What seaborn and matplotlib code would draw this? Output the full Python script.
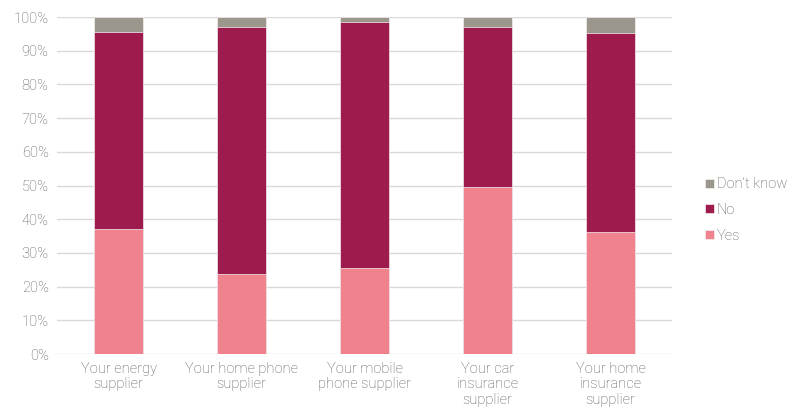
import numpy as np
import pandas as pd
import matplotlib
matplotlib.use("Agg")
import matplotlib.pyplot as plt
import seaborn as sns

categories = [
    "Your energy\nsupplier",
    "Your home phone\nsupplier",
    "Your mobile\nphone supplier",
    "Your car\ninsurance\nsupplier",
    "Your home\ninsurance\nsupplier",
]
yes = [37.1, 23.7, 25.5, 49.6, 36.2]
no = [58.5, 73.4, 73.1, 47.5, 59.1]
dont_know = [4.4, 2.9, 1.4, 2.9, 4.7]

colors = {"Yes": "#EF828C", "No": "#9E1C4D", "Don't know": "#9C978C"}
text_color = "#5A5A5A"
grid_color = "#D9D9D9"

sns.set_theme(style="white")
plt.rcParams["font.family"] = ["Roboto", "DejaVu Sans"]
plt.rcParams["font.weight"] = "light"

df = pd.DataFrame({"category": categories, "Yes": yes, "No": no, "Don't know": dont_know})
df["cum_yes"] = df["Yes"]
df["cum_no"] = df["Yes"] + df["No"]
df["cum_dk"] = df["cum_no"] + df["Don't know"]

fig = plt.figure(figsize=(7.91, 4.11), dpi=100)
ax = fig.add_axes([57 / 791, 1 - 354 / 411, (672 - 57) / 791, (354 - 17) / 411])

ax.set_axisbelow(True)
ax.yaxis.grid(True, color=grid_color, linewidth=1.0)

# stacked bars: draw cumulative layers from the top down
for col, name in [("cum_dk", "Don't know"), ("cum_no", "No"), ("cum_yes", "Yes")]:
    sns.barplot(data=df, x="category", y=col, color=colors[name], width=0.4,
                saturation=1, ax=ax, label=name, zorder=2, linewidth=0.5,
                edgecolor="#F4F0F2")

ax.set_ylim(0, 100)
ax.set_xlim(-0.5, len(categories) - 0.5)
ax.set_yticks(np.arange(0, 101, 10))
ax.set_yticklabels([f"{v}%" for v in range(0, 101, 10)])
ax.set_xlabel("")
ax.set_ylabel("")
for s in ax.spines.values():
    s.set_visible(False)
ax.tick_params(axis="both", length=0, colors=text_color, labelsize=10.5)
ax.tick_params(axis="y", pad=6)
ax.tick_params(axis="x", pad=6)
for lbl in ax.get_xticklabels() + ax.get_yticklabels():
    lbl.set_fontweight("light")
for lbl in ax.get_xticklabels():
    lbl.set_linespacing(1.1)

handles, labels = ax.get_legend_handles_labels()
leg = ax.legend(handles, labels, loc="center left", bbox_to_anchor=(692 / 791, 1 - 210 / 411),
                bbox_transform=fig.transFigure, frameon=False,
                prop={"size": 10.5, "weight": "light"},
                handlelength=0.6, handleheight=0.6, handletextpad=0.2, labelspacing=0.8,
                labelcolor=text_color)

fig.savefig("out.png", dpi=100)
